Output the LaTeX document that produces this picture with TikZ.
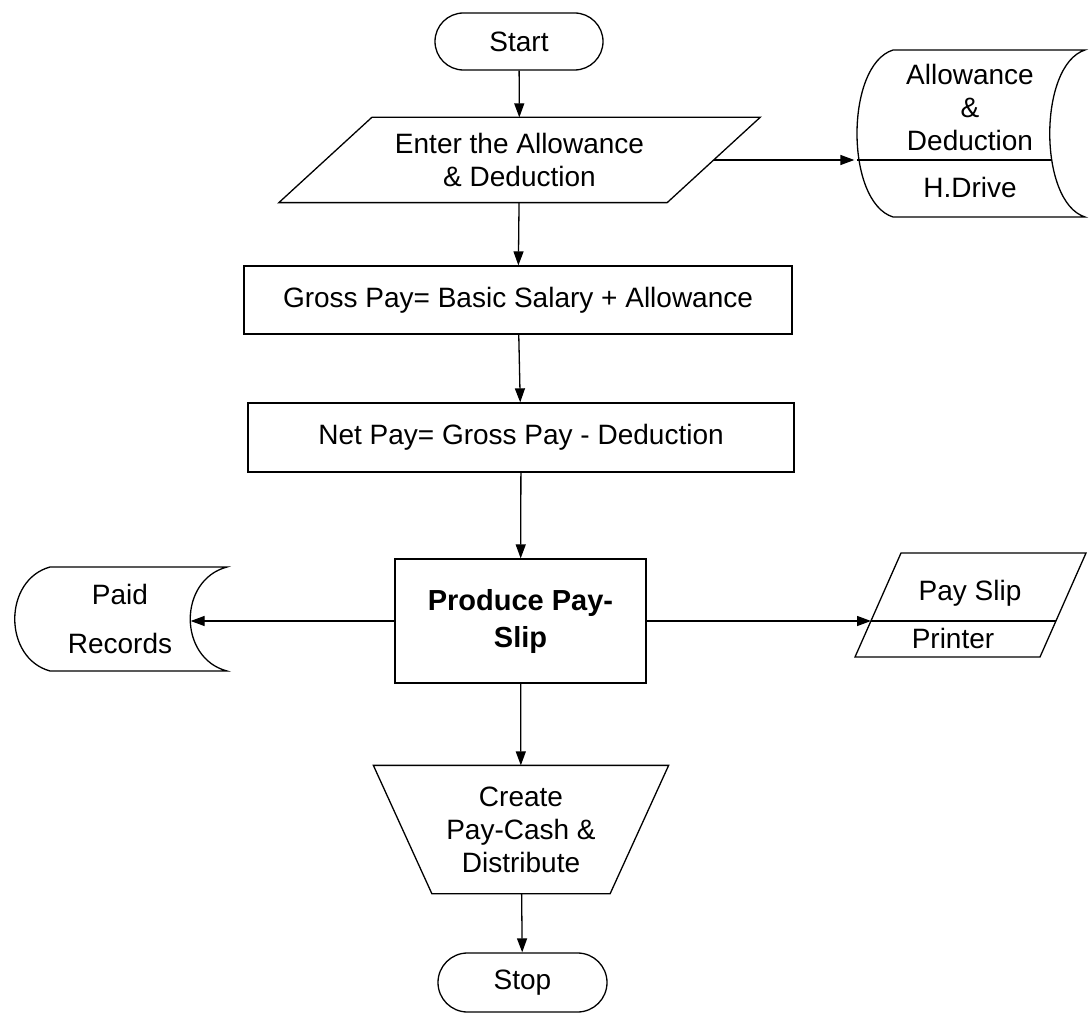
\documentclass[tikz,border=0pt]{standalone}
\usepackage{fontspec}
\setmainfont{Liberation Sans}
\usetikzlibrary{shapes.misc,arrows.meta,calc}

\begin{document}
\begin{tikzpicture}[x=1pt,y=-1pt,
  line width=1.3pt,
  every node/.style={font=\fontsize{28}{33}\selectfont, inner sep=0pt, align=center},
  arr/.style={-{Triangle[length=14pt,width=10pt]}},
  proc/.style={draw, rectangle},
  term/.style={draw, rounded rectangle},
  frame/.style={rectangle, draw=none},
]
\useasboundingbox (0,0) rectangle (1090,1016);

% terminals
\node[term, minimum width=168pt, minimum height=57pt] (start) at (519,41.5) {Start};
\node[term, minimum width=169pt, minimum height=59pt] (stop) at (522.5,982.5) {Stop};

% input parallelogram
\node[frame, minimum width=387pt, minimum height=84pt] (enter) at (519.5,160)
  {Enter the Allowance\\\& Deduction};
\draw ($(enter.north west)+(46.5,0)$) -- ($(enter.north east)+(46.5,0)$)
  -- ($(enter.south east)+(-46.5,0)$) -- ($(enter.south west)+(-46.5,0)$) -- cycle;

% stored data on the hard drive
\node[frame, minimum width=230pt, minimum height=167pt] (store) at (970,133.5) {};
\draw (893,50) -- (1085,50) .. controls (1038,65) and (1038,202) .. (1085,217)
  -- (893,217) .. controls (845,202) and (845,65) .. (893,50) -- cycle;
\draw (857,160) -- (1052,160);
\node (storetext) at (970,107) {Allowance\\\&\\Deduction};
\node (storedev) at (970,187) {H.Drive};

% processes
\node[proc, minimum width=548pt, minimum height=68pt] (gross) at (518,300)
  {Gross Pay= Basic Salary + Allowance};
\node[proc, minimum width=546pt, minimum height=69pt] (net) at (521,437.5)
  {Net Pay= Gross Pay - Deduction};
\node[proc, minimum width=251pt, minimum height=124pt,
  font=\fontsize{29}{37}\selectfont\bfseries] (produce) at (520.5,621)
  {Produce Pay-\\Slip};

% paid records store
\node[frame, minimum width=140pt, minimum height=104pt,
  font=\fontsize{28}{49}\selectfont] (paid) at (120,619) {Paid\\Records};
\draw (50,567) -- (227,567) .. controls (178,580) and (178,658) .. (227,671)
  -- (50,671) .. controls (3,658) and (3,580) .. (50,567) -- cycle;

% pay slip output
\node[frame, minimum width=185pt, minimum height=104pt] (payslip) at (970.5,605) {};
\draw (901,553) -- (1086,553) -- (1040,657) -- (855,657) -- cycle;
\draw (871,621) -- (1056,621);
\node (sliptext) at (970,593) {Pay Slip};
\node (printer) at (953,638) {Printer};
\coordinate (slipin) at (871,621);

% manual operation
\node[frame, minimum width=294pt, minimum height=127pt] (cash) at (521,829.5)
  {Create\\Pay-Cash \&\\Distribute};
\draw (cash.north west) -- (cash.north east) -- ($(cash.south east)+(-58.5,0)$)
  -- ($(cash.south west)+(58.5,0)$) -- cycle;

% connectors
\draw[arr] (start) -- (enter);
\draw[arr] (enter) -- (gross);
\draw[arr] (gross) -- (net);
\draw[arr] (net) -- (produce);
\draw[arr] (produce) -- (cash);
\draw[arr] (cash) -- (stop);
\draw[arr] (enter.east) -- (enter.east -| store.west);
\draw[arr] (produce.west) -- (produce.west -| paid.east);
\draw[arr] (produce.east) -- (slipin);
\end{tikzpicture}
\end{document}
